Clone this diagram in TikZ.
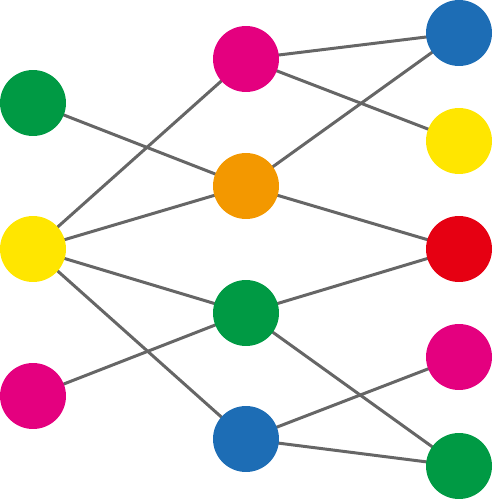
\documentclass[tikz,border=0pt]{standalone}
\usepackage{tikz}
\usetikzlibrary{backgrounds}
\definecolor{dotgreen}{HTML}{009A44}
\definecolor{dotyellow}{HTML}{FFE600}
\definecolor{dotmagenta}{HTML}{E4007F}
\definecolor{dotorange}{HTML}{F39800}
\definecolor{dotblue}{HTML}{1D6DB5}
\definecolor{dotred}{HTML}{E60012}
\newcommand{\linkcolor}{black!60}
\newcommand{\linkwidth}{0.06cm}
\newcommand{\dotsize}{1.32cm}

\begin{document}
\begin{tikzpicture}[x=0.02cm,y=-0.02cm]
\useasboundingbox (0,0) rectangle (493,500);
\tikzset{dot/.style={circle,inner sep=0pt,minimum size=\dotsize}}
\node[dot,fill=dotgreen] (1) at (33, 103) {};
\node[dot,fill=dotyellow] (2) at (33, 249) {};
\node[dot,fill=dotmagenta] (3) at (33, 396) {};
\node[dot,fill=dotmagenta] (4) at (246, 59) {};
\node[dot,fill=dotorange] (5) at (246, 186) {};
\node[dot,fill=dotgreen] (6) at (246, 313) {};
\node[dot,fill=dotblue] (7) at (246, 439) {};
\node[dot,fill=dotblue] (8) at (459, 33) {};
\node[dot,fill=dotyellow] (9) at (459, 141) {};
\node[dot,fill=dotred] (10) at (459, 249) {};
\node[dot,fill=dotmagenta] (11) at (459, 357) {};
\node[dot,fill=dotgreen] (12) at (459, 466) {};
%left to middle
\begin{scope}[on background layer]
\draw[\linkcolor] [line width = \linkwidth] (1.center) -- (5.center);
\draw[\linkcolor] [line width = \linkwidth] (2.center) -- (4.center);
\draw[\linkcolor] [line width = \linkwidth] (2.center) -- (5.center);
\draw[\linkcolor] [line width = \linkwidth] (2.center) -- (6.center);
\draw[\linkcolor] [line width = \linkwidth] (2.center) -- (7.center);
\draw[\linkcolor] [line width = \linkwidth] (3.center) -- (6.center);
\end{scope}
%middle to right
\begin{scope}[on background layer]
\draw[\linkcolor] [line width = \linkwidth] (4.center) -- (8.center);
\draw[\linkcolor] [line width = \linkwidth] (4.center) -- (9.center);
\draw[\linkcolor] [line width = \linkwidth] (5.center) -- (8.center);
\draw[\linkcolor] [line width = \linkwidth] (5.center) -- (10.center);
\draw[\linkcolor] [line width = \linkwidth] (6.center) -- (10.center);
\draw[\linkcolor] [line width = \linkwidth] (6.center) -- (12.center);
\draw[\linkcolor] [line width = \linkwidth] (7.center) -- (11.center);
\draw[\linkcolor] [line width = \linkwidth] (7.center) -- (12.center);
\end{scope}
\end{tikzpicture}
\end{document}
